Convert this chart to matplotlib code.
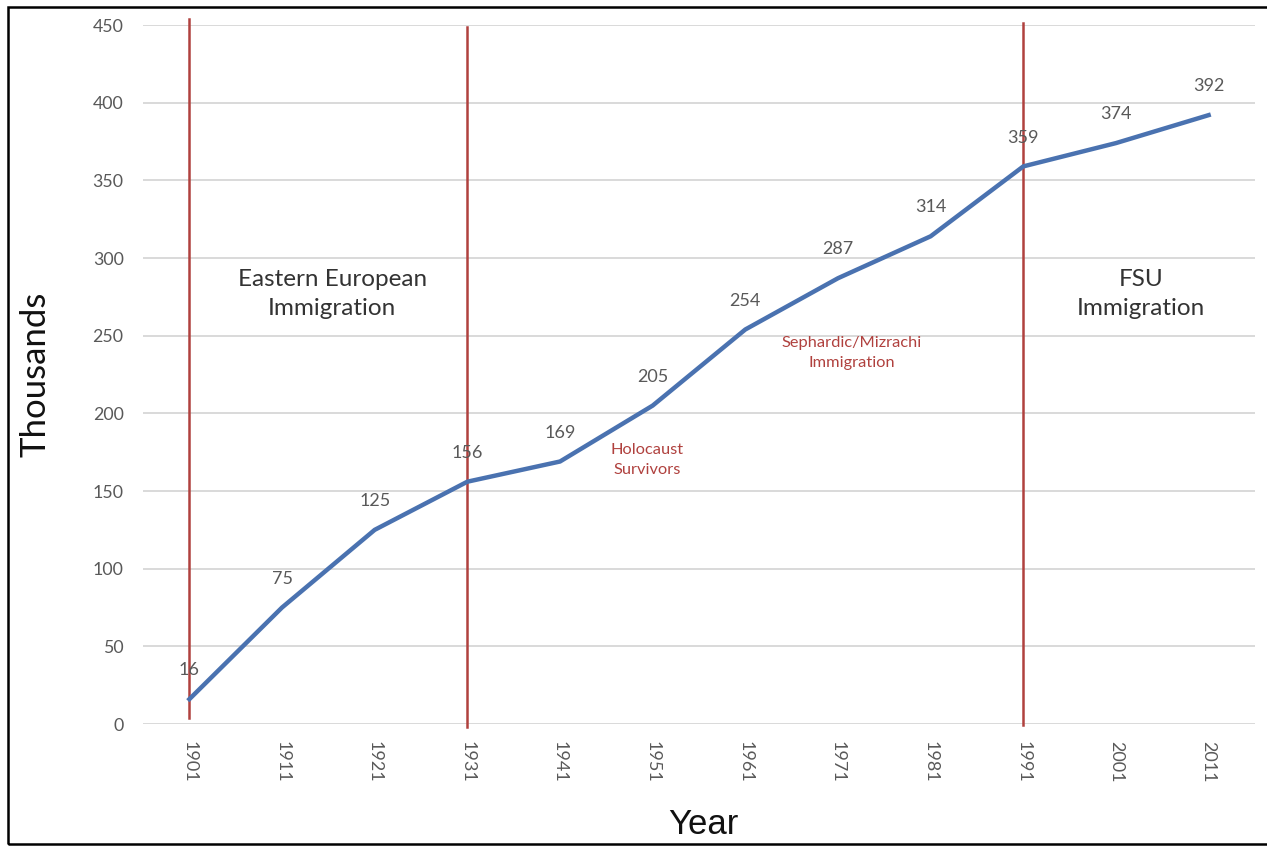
import matplotlib
matplotlib.use("Agg")
import matplotlib.pyplot as plt
from matplotlib.patches import Rectangle

# population series (thousands) by census year
years = ["1901", "1911", "1921", "1931", "1941", "1951", "1961", "1971", "1981", "1991", "2001", "2011"]
values = [16, 75, 125, 156, 169, 205, 254, 287, 314, 359, 374, 392]

# immigration wave boundaries
wave_years = ["1901", "1931", "1991"]
wave_spans = [(3.9, 453.9), (-1.9, 448.7), (-0.6, 451.3)]

big_notes = [("Eastern European\nImmigration", 1.54, 277), ("FSU\nImmigration", 10.27, 277)]
small_notes = [("Holocaust\nSurvivors", 4.94, 170), ("Sephardic/Mizrachi\nImmigration", 7.15, 239)]

BLUE = "#4a72b0"
RED = "#b0413e"
GREY = "#595959"
BODY = ["Lato", "DejaVu Sans"]

fig = plt.figure(figsize=(12.67, 8.46), dpi=100)
ax = fig.add_axes([0.1129, 0.1442, 0.8776, 0.8262])

x = list(range(len(years)))
ax.plot(x, values, color=BLUE, lw=3.2, solid_joinstyle="round", zorder=3)

for xi, v in zip(x, values):
    ax.annotate(str(v), (xi, v), xytext=(0, 15), textcoords="offset points",
                ha="center", va="bottom", fontsize=13, color=GREY, family=BODY, zorder=4)

for wy, (lo, hi) in zip(wave_years, wave_spans):
    ax.plot([years.index(wy)] * 2, [lo, hi], color=RED, lw=1.8, clip_on=False, zorder=2)

for txt, xi, yi in big_notes:
    ax.text(xi, yi, txt, ha="center", va="center", fontsize=17.5, color="#333333",
            family=BODY, linespacing=1.5)
for txt, xi, yi in small_notes:
    ax.text(xi, yi, txt, ha="center", va="center", fontsize=11.8, color=RED,
            family=BODY, linespacing=1.55)

ax.set_xlim(-0.5, 11.5)
ax.set_ylim(0, 450)
ax.set_yticks(range(0, 451, 50))
ax.set_xticks(x)
ax.set_xticklabels(years, rotation=270, family=BODY, fontsize=13, color=GREY)
for lab in ax.get_yticklabels():
    lab.set_family(BODY)
    lab.set_fontsize(12.8)
    lab.set_color(GREY)
ax.tick_params(length=0, pad=12)
ax.tick_params(axis="y", pad=14)
ax.grid(axis="y", color="#d9d9d9", lw=1.4)
ax.set_axisbelow(True)
for s in ax.spines.values():
    s.set_visible(False)

fig.text(0.028, 0.557, "Thousands", rotation=90, ha="center", va="center",
         fontsize=25, family=BODY, color="#111111")
fig.text(0.555, 0.026, "Year", ha="center", va="center", fontsize=25,
         family=["Liberation Sans", "DejaVu Sans"], color="#111111")

# outer frame
fig.patches.append(Rectangle((8 / 1267, 2 / 846), 1.1, 837 / 846, transform=fig.transFigure,
                             fill=False, ec="black", lw=1.8))

fig.savefig("out.png", dpi=100)
